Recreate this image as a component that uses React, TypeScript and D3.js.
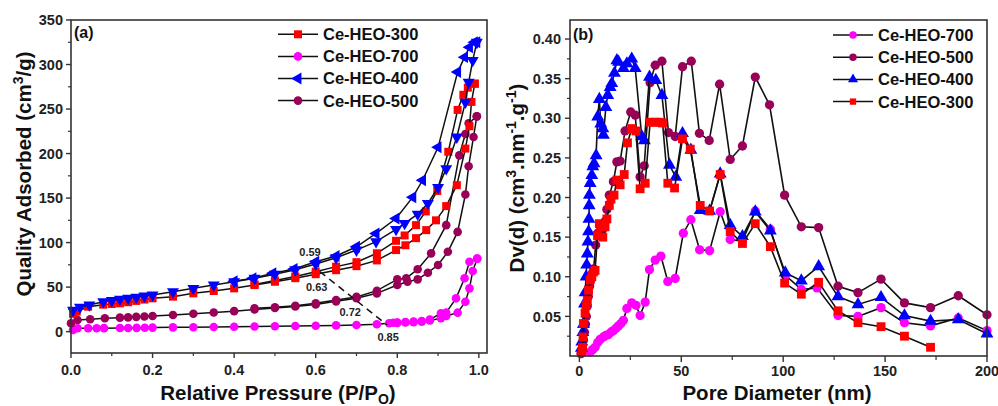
import React from 'react';
import * as d3 from 'd3';

const W = 998;
const H = 406;
const FONT = '"Liberation Sans", Arial, Helvetica, sans-serif';

const RED = '#ff0000';
const MAGENTA = '#ff00ff';
const BLUE = '#0000ff';
const MAROON = '#990057';

// ---------- Panel (a): N2 isotherms (P/P0, cm3/g) ----------
const a300Ads: [number, number][] = [[0.005,20],[0.014,22.4],[0.042,28],[0.079,30.3],[0.1,31],[0.12,31.8],[0.14,33],[0.16,34.5],[0.18,36],[0.2,37.4],[0.25,39.3],[0.3,43],[0.35,45.6],[0.4,48.6],[0.45,52.3],[0.5,56],[0.55,60],[0.6,64.5],[0.65,69],[0.7,73.5],[0.75,80],[0.797,91.6],[0.82,97],[0.846,105],[0.871,114],[0.895,125],[0.92,141],[0.946,164.5],[0.967,205.6],[0.977,230.6],[0.982,258],[0.99,278.5]];
const a300Des: [number, number][] = [[0.99,278.5],[0.973,274],[0.962,266],[0.948,249],[0.925,202],[0.898,158],[0.87,135],[0.846,119.6],[0.818,108],[0.797,102],[0.75,88],[0.7,78],[0.65,73],[0.6,67.3],[0.55,62],[0.5,57.5],[0.45,53]];

const a700Ads: [number, number][] = [[0.005,2],[0.016,3.8],[0.042,3.8],[0.063,3.8],[0.081,3.9],[0.12,4],[0.14,4.1],[0.161,4.2],[0.181,4.3],[0.2,4.5],[0.25,4.8],[0.3,5],[0.35,5.2],[0.4,5.5],[0.45,5.8],[0.5,6],[0.55,6.3],[0.6,6.6],[0.65,7],[0.7,7.5],[0.75,8.3],[0.78,9.4],[0.8,9.8],[0.82,10.2],[0.84,10.6],[0.86,11.2],[0.88,12.5],[0.907,15],[0.92,17.6],[0.948,21.3],[0.967,33.6],[0.977,48.6],[0.985,68],[0.996,82]];
const a700Des: [number, number][] = [[0.996,82],[0.977,78.5],[0.965,60],[0.944,37.4],[0.92,21.3],[0.907,20.6],[0.88,13.5],[0.86,12],[0.84,11.3],[0.82,10.8],[0.8,10.2],[0.79,10]];

const a400Ads: [number, number][] = [[0.005,24],[0.022,27.4],[0.045,30],[0.079,33.6],[0.1,35],[0.12,36.5],[0.14,37.5],[0.16,38.8],[0.18,40],[0.2,41.1],[0.25,44.8],[0.3,48.6],[0.35,52.3],[0.4,56.1],[0.45,60],[0.5,64.5],[0.55,69.5],[0.6,76],[0.65,83],[0.7,91.6],[0.748,101],[0.797,114.8],[0.818,121.5],[0.85,132],[0.875,144],[0.9,162],[0.92,183],[0.946,218.6],[0.967,257.8],[0.975,280],[0.985,304.6],[0.995,325]];
const a400Des: [number, number][] = [[0.995,325],[0.989,325],[0.977,319.5],[0.965,308.3],[0.948,291.5],[0.9,207],[0.862,170],[0.838,151],[0.797,127],[0.748,110.3],[0.7,95.3],[0.65,84.9],[0.6,78.5],[0.547,70.3],[0.495,65.5],[0.446,60],[0.4,56.5]];

const a500Ads: [number, number][] = [[0.0,9.4],[0.016,13.1],[0.047,13.9],[0.083,15],[0.12,15.7],[0.14,16],[0.16,16.6],[0.18,17],[0.2,17.5],[0.25,18.6],[0.3,20],[0.35,21.5],[0.4,23],[0.45,24.8],[0.5,26.5],[0.55,28.3],[0.6,30.5],[0.65,34],[0.7,37.5],[0.75,43],[0.8,52.4],[0.825,56],[0.85,58.7],[0.875,66.2],[0.9,74.8],[0.924,89.7],[0.948,112],[0.967,154],[0.975,185.8],[0.987,218.6],[0.995,241.8]];
const a500Des: [number, number][] = [[0.995,241.8],[0.975,234],[0.967,222],[0.952,198],[0.92,119.6],[0.883,87.9],[0.85,70],[0.822,60],[0.8,58.7],[0.75,46],[0.7,39],[0.65,35.5],[0.6,31.8],[0.55,29],[0.5,27.3],[0.45,26.2]];

const aClosureLine: [number, number][] = [[0.61,67.5],[0.775,7.5]];
const aClosureLabels: { text: string; p: number; q: number }[] = [
  { text: '0.59', p: 0.586, q: 89 },
  { text: '0.63', p: 0.6025, q: 50 },
  { text: '0.72', p: 0.6845, q: 22 },
  { text: '0.85', p: 0.7775, q: -6 },
];

const aXTicks = [0, 0.2, 0.4, 0.6, 0.8, 1.0];
const aXMinor = [0.1, 0.3, 0.5, 0.7, 0.9];
const aYTicks = [0, 50, 100, 150, 200, 250, 300, 350];
const aYMinor = [25, 75, 125, 175, 225, 275, 325];

// ---------- Panel (b): pore size distribution (nm, cm3 nm-1 g-1) ----------
const b700: [number, number][] = [[5.3,0.005],[6.5,0.008],[7.7,0.011],[9,0.017],[10.2,0.021],[11.8,0.024],[13,0.026],[14.2,0.027],[15.5,0.03],[16.7,0.032],[18,0.035],[19.2,0.038],[20.4,0.041],[21.6,0.045],[23.3,0.060],[25.7,0.067],[27.8,0.064],[29.8,0.051],[32.3,0.068],[34.4,0.109],[37.2,0.121],[40,0.126],[43.4,0.094],[47,0.098],[51,0.155],[54.7,0.172],[59,0.134],[63.9,0.133],[69.1,0.182],[74,0.147],[80,0.145],[86.3,0.183],[93.7,0.160],[101,0.102],[108.9,0.084],[116.6,0.086],[126.9,0.051],[136.7,0.050],[148,0.061],[159.5,0.042],[172.3,0.038],[185.9,0.048],[200,0.032]];
const b500: [number, number][] = [[0.8,0.003],[1.5,0.01],[2.0,0.02],[2.5,0.03],[3.0,0.04],[3.4,0.05],[3.9,0.063],[4.4,0.075],[5.0,0.088],[5.6,0.096],[6.3,0.104],[7,0.11],[8,0.14],[9,0.155],[10.2,0.152],[11.5,0.16],[12.6,0.17],[13.5,0.185],[14.7,0.203],[16.7,0.220],[18.4,0.245],[20,0.246],[22.4,0.284],[25.2,0.308],[27.4,0.304],[29.8,0.226],[31.8,0.240],[34.7,0.345],[37.2,0.367],[40.5,0.372],[43.7,0.282],[47,0.277],[50.6,0.365],[54.9,0.372],[58.9,0.281],[63.7,0.272],[68.8,0.343],[74,0.248],[80,0.265],[86.3,0.352],[93.3,0.317],[100.7,0.203],[108.9,0.163],[117.4,0.162],[126.9,0.088],[136.7,0.080],[148,0.097],[159.5,0.067],[172.3,0.061],[185.9,0.076],[200,0.052]];
const b400: [number, number][] = [[1.0,0.01],[1.2,0.018],[1.7,0.03],[2.0,0.04],[2.5,0.066],[2.8,0.08],[3.3,0.1],[3.6,0.115],[3.9,0.129],[4.2,0.144],[4.5,0.157],[4.7,0.173],[4.8,0.19],[4.9,0.203],[5.3,0.218],[6.1,0.228],[6.6,0.239],[7.2,0.243],[8.2,0.253],[9,0.302],[9.8,0.324],[10.5,0.293],[11.5,0.287],[11.8,0.279],[13,0.314],[13.9,0.329],[15.1,0.339],[15.9,0.344],[17.2,0.357],[18.4,0.373],[19.2,0.371],[21.6,0.363],[23.3,0.369],[25.7,0.375],[27.4,0.363],[30.6,0.277],[31.9,0.272],[34.4,0.352],[37.5,0.348],[40.5,0.329],[44.2,0.241],[47.3,0.226],[50.6,0.281],[54.7,0.26],[59.3,0.184],[63.9,0.183],[69.1,0.230],[74,0.165],[80,0.151],[86.3,0.182],[93.7,0.158],[101,0.105],[108.9,0.095],[117.4,0.113],[126.9,0.075],[136.7,0.065],[148,0.074],[159.5,0.051],[172.3,0.044],[185.9,0.046],[200,0.028]];
const b300: [number, number][] = [[1.2,0.005],[1.5,0.011],[1.8,0.024],[2.0,0.041],[2.8,0.054],[3.3,0.064],[3.9,0.07],[4.5,0.083],[5.3,0.096],[6.1,0.1],[6.9,0.106],[7.7,0.108],[8.9,0.152],[9.8,0.167],[10.4,0.163],[11.5,0.15],[12.6,0.163],[13.5,0.173],[14.7,0.19],[15.5,0.198],[17,0.203],[18.4,0.222],[20,0.216],[22,0.229],[23.6,0.269],[25.7,0.287],[27.7,0.284],[29.8,0.211],[32.3,0.218],[34.7,0.295],[37.2,0.295],[39.1,0.295],[40.8,0.294],[43.4,0.218],[46.7,0.212],[50.6,0.274],[54.4,0.261],[59.3,0.19],[63.9,0.183],[69.1,0.229],[74,0.157],[80,0.142],[86.3,0.167],[93.7,0.138],[100.7,0.092],[108.9,0.078],[117.4,0.093],[126.9,0.057],[136.7,0.042],[148,0.037],[159.5,0.025],[172.3,0.011]];

const bXTicks = [0, 50, 100, 150, 200];
const bXMinor = [25, 75, 125, 175];
const bYTicks = [0.05, 0.10, 0.15, 0.20, 0.25, 0.30, 0.35, 0.40];
const bYMinor = [0.025, 0.075, 0.125, 0.175, 0.225, 0.275, 0.325, 0.375];

const aLegend = [
  { name: 'Ce-HEO-300', color: RED, shape: 'square' },
  { name: 'Ce-HEO-700', color: MAGENTA, shape: 'circle' },
  { name: 'Ce-HEO-400', color: BLUE, shape: 'triLeft' },
  { name: 'Ce-HEO-500', color: MAROON, shape: 'circle' },
];
const bLegend = [
  { name: 'Ce-HEO-700', color: MAGENTA, shape: 'circle' },
  { name: 'Ce-HEO-500', color: MAROON, shape: 'circle' },
  { name: 'Ce-HEO-400', color: BLUE, shape: 'triUp' },
  { name: 'Ce-HEO-300', color: RED, shape: 'square' },
];

function symbolPath(shape: string, size: number) {
  const type = shape === 'square' ? d3.symbolSquare : shape === 'circle' ? d3.symbolCircle : d3.symbolTriangle;
  return d3.symbol().type(type).size(size)() as string;
}
function rot(shape: string) {
  return shape === 'triDown' ? 180 : shape === 'triLeft' ? -90 : 0;
}
function Marker({ shape, x, y, size, color }: { shape: string; x: number; y: number; size: number; color: string }) {
  return <path d={symbolPath(shape, size)} transform={`translate(${x},${y}) rotate(${rot(shape)})`} fill={color} />;
}

const sizes: Record<string, number> = { square: 64, circle: 58, triDown: 62, triLeft: 62, triUp: 62 };
const sizesB: Record<string, number> = { square: 78, circle: 68, triUp: 72 };

export default function App() {
  // Panel a scales
  const ax = d3.scaleLinear().domain([0, 1.02]).range([71, 487]);
  const ay = d3.scaleLinear().domain([-24, 350]).range([353, 20]);
  // Panel b scales
  const bx = d3.scaleLinear().domain([-4.6, 200]).range([570, 987]);
  const by = d3.scaleLinear().domain([0, 0.424]).range([356, 20]);

  const aLine = d3.line<[number, number]>().x(d => ax(d[0])).y(d => ay(d[1]));
  const bLine = d3.line<[number, number]>().x(d => bx(d[0])).y(d => by(d[1]));

  const aSeries = [
    { data: [a700Ads, a700Des], shapes: ['circle', 'circle'], color: MAGENTA },
    { data: [a500Ads, a500Des], shapes: ['circle', 'circle'], color: MAROON },
    { data: [a300Ads, a300Des], shapes: ['square', 'square'], color: RED },
    { data: [a400Ads, a400Des], shapes: ['triDown', 'triLeft'], color: BLUE },
  ];
  const bSeries = [
    { data: b700, shape: 'circle', color: MAGENTA },
    { data: b500, shape: 'circle', color: MAROON },
    { data: b400, shape: 'triUp', color: BLUE },
    { data: b300, shape: 'square', color: RED },
  ];

  const lineColor = '#111';
  const frame = '#333';

  return (
    <svg width={W} height={H} viewBox={`0 0 ${W} ${H}`} style={{ position: 'absolute', left: 0, top: 0, background: '#fff' }} fontFamily={FONT}>
      <rect x={0} y={0} width={W} height={H} fill="#fff" />

      {/* ================= Panel (a) ================= */}
      {aSeries.map((s, i) => (
        <g key={'as' + i}>
          {s.data.map((branch, j) => (
            <path key={'l' + j} d={aLine(branch) as string} fill="none" stroke={lineColor} strokeWidth={1.5} />
          ))}
          {s.data.map((branch, j) =>
            branch.map((p, k) => (
              <Marker key={`m${j}-${k}`} shape={s.shapes[j]} x={ax(p[0])} y={ay(p[1])} size={sizes[s.shapes[j]]} color={s.color} />
            ))
          )}
        </g>
      ))}
      <path d={aLine(aClosureLine) as string} fill="none" stroke="#111" strokeWidth={1.5} strokeDasharray="7,5" />
      {aClosureLabels.map((l, i) => (
        <text key={'cl' + i} x={ax(l.p)} y={ay(l.q)} textAnchor="middle" dominantBaseline="central" fontSize={11} fontWeight="bold" fill="#222">{l.text}</text>
      ))}

      <rect x={71} y={20} width={416} height={333} fill="none" stroke={frame} strokeWidth={1.6} />
      {aXTicks.map(t => (
        <g key={'axt' + t}>
          <line x1={ax(t)} x2={ax(t)} y1={353} y2={358} stroke={frame} strokeWidth={1.4} />
          <text x={ax(t)} y={375} textAnchor="middle" fontSize={14.5} fontWeight="bold" fill="#222">{t.toFixed(1)}</text>
        </g>
      ))}
      {aXMinor.map(t => (
        <line key={'axm' + t} x1={ax(t)} x2={ax(t)} y1={353} y2={356} stroke={frame} strokeWidth={1.2} />
      ))}
      {aYTicks.map(t => (
        <g key={'ayt' + t}>
          <line x1={66} x2={71} y1={ay(t)} y2={ay(t)} stroke={frame} strokeWidth={1.4} />
          <text x={63} y={ay(t)} dy="0.36em" textAnchor="end" fontSize={14.5} fontWeight="bold" fill="#222">{t}</text>
        </g>
      ))}
      {aYMinor.map(t => (
        <line key={'aym' + t} x1={68} x2={71} y1={ay(t)} y2={ay(t)} stroke={frame} strokeWidth={1.2} />
      ))}
      <text x={74} y={38} fontSize={16} fontWeight="bold" fill="#111">(a)</text>

      <text x={278} y={400} textAnchor="middle" fontSize={20.5} fontWeight="bold" fill="#111">
        Relative Pressure (P/P<tspan fontSize={14} dy={4}>O</tspan><tspan dy={-4}>)</tspan>
      </text>
      <text transform="translate(31,174) rotate(-90)" textAnchor="middle" fontSize={20.5} fontWeight="bold" fill="#111">
        Quality Adsorbed (cm<tspan fontSize={14} dy={-8}>3</tspan><tspan dy={8}>/g)</tspan>
      </text>

      {aLegend.map((l, i) => {
        const y = 34.3 + i * 22.1;
        return (
          <g key={'al' + i}>
            <line x1={278} x2={318} y1={y} y2={y} stroke={lineColor} strokeWidth={1.5} />
            <Marker shape={l.shape} x={298} y={y} size={sizes[l.shape]} color={l.color} />
            <text x={323} y={y} dy="0.36em" fontSize={16.5} fontWeight="bold" fill="#111">{l.name}</text>
          </g>
        );
      })}

      {/* ================= Panel (b) ================= */}
      {bSeries.map((s, i) => (
        <g key={'bs' + i}>
          <path d={bLine(s.data) as string} fill="none" stroke={lineColor} strokeWidth={1.6} />
          {s.data.map((p, k) => (
            <Marker key={'bm' + k} shape={s.shape} x={bx(p[0])} y={by(p[1])} size={sizesB[s.shape]} color={s.color} />
          ))}
        </g>
      ))}

      <rect x={570} y={20} width={417} height={336} fill="none" stroke={frame} strokeWidth={1.6} />
      {bXTicks.map(t => (
        <g key={'bxt' + t}>
          <line x1={bx(t)} x2={bx(t)} y1={356} y2={362} stroke={frame} strokeWidth={1.4} />
          <text x={bx(t)} y={376} textAnchor="middle" fontSize={14.5} fontWeight="bold" fill="#222">{t}</text>
        </g>
      ))}
      {bXMinor.map(t => (
        <line key={'bxm' + t} x1={bx(t)} x2={bx(t)} y1={356} y2={360} stroke={frame} strokeWidth={1.2} />
      ))}
      {bYTicks.map(t => (
        <g key={'byt' + t}>
          <line x1={565} x2={570} y1={by(t)} y2={by(t)} stroke={frame} strokeWidth={1.4} />
          <text x={561} y={by(t)} dy="0.36em" textAnchor="end" fontSize={14.5} fontWeight="bold" fill="#222">{t.toFixed(2)}</text>
        </g>
      ))}
      {bYMinor.map(t => (
        <line key={'bym' + t} x1={567} x2={570} y1={by(t)} y2={by(t)} stroke={frame} strokeWidth={1.2} />
      ))}
      <text x={573} y={40} fontSize={16} fontWeight="bold" fill="#111">(b)</text>

      <text x={777} y={400} textAnchor="middle" fontSize={20.5} fontWeight="bold" fill="#111">Pore Diameter (nm)</text>
      <text transform="translate(524,178) rotate(-90)" textAnchor="middle" fontSize={20.5} fontWeight="bold" fill="#111">
        Dv(d) (cm<tspan fontSize={14} dy={-8}>3</tspan><tspan dy={8}>.nm</tspan><tspan fontSize={14} dy={-8}>-1</tspan><tspan dy={8}>.g</tspan><tspan fontSize={14} dy={-8}>-1</tspan><tspan dy={8}>)</tspan>
      </text>

      {bLegend.map((l, i) => {
        const y = 35 + i * 22.2;
        return (
          <g key={'bl' + i}>
            <line x1={833} x2={873} y1={y} y2={y} stroke={lineColor} strokeWidth={1.5} />
            <Marker shape={l.shape} x={853} y={y} size={l.shape === 'square' ? 40 : 44} color={l.color} />
            <text x={878} y={y} dy="0.36em" fontSize={16.5} fontWeight="bold" fill="#111">{l.name}</text>
          </g>
        );
      })}
    </svg>
  );
}
